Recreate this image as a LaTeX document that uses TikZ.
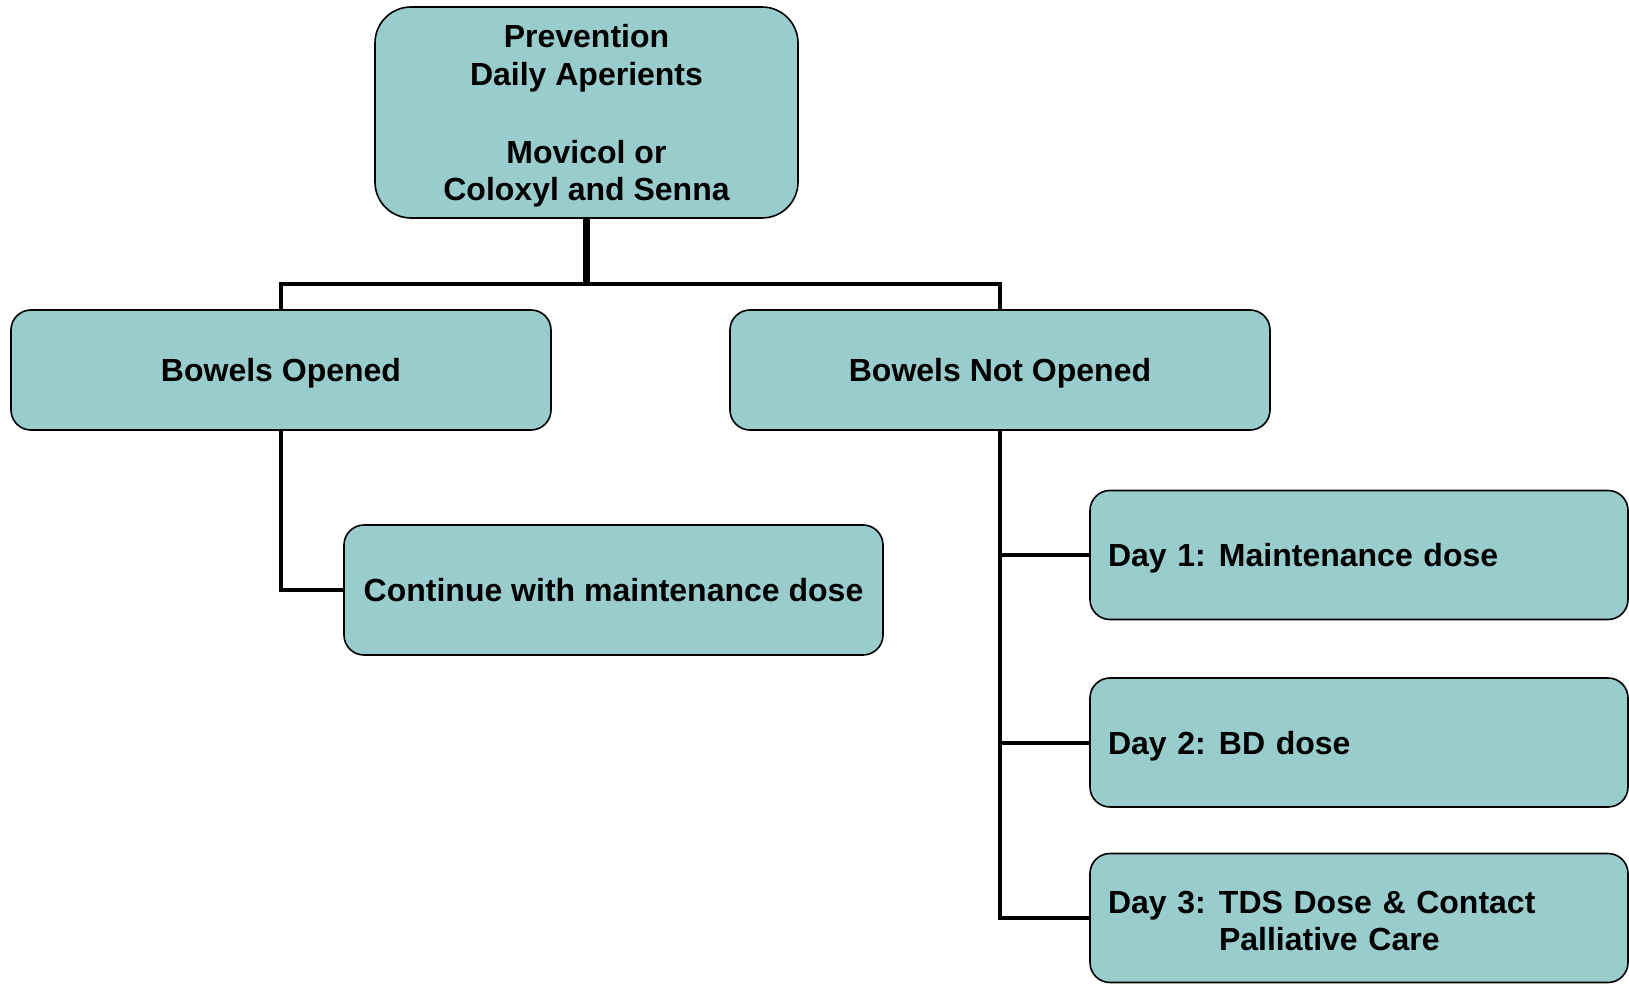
\documentclass[tikz,border=0pt]{standalone}
\usepackage{fontspec}
\setmainfont{Liberation Sans}
\usepackage{tikz}
\usetikzlibrary{positioning}
\definecolor{boxteal}{RGB}{153,204,204}
\tikzset{
  flowbox/.style={draw=black, line width=0.8pt, fill=boxteal, rounded corners=10pt,
    font=\bfseries\fontsize{16}{18.7}\selectfont, inner sep=0pt, text depth=-0.8pt},
  daybox/.style={flowbox, text width=251pt, inner xsep=9pt, align=left, minimum height=64.5pt},
  link/.style={black, line width=2pt}
}
\newcommand\dayline[2]{\makebox[55.5pt][l]{#1}#2}

\begin{document}
\begin{tikzpicture}[x=0.5pt, y=-0.5pt]
  \useasboundingbox (0,0) rectangle (1629,984);
  \node[flowbox, rounded corners=18pt, minimum width=211.5pt, minimum height=105.5pt, align=center, text depth=-2.2pt]
    (prev) at (586.5,112.5) {Prevention\\Daily Aperients\\[20.3pt]Movicol or\\Coloxyl and Senna};
  \node[flowbox, minimum width=270pt, minimum height=60pt] (opened) at (281,370) {Bowels Opened};
  \node[flowbox, minimum width=270pt, minimum height=60pt] (notopened) at (1000,370) {Bowels Not Opened};
  \node[flowbox, minimum width=269.5pt, minimum height=65pt] (cont) at (613.5,590) {Continue with maintenance dose};
  \node[daybox] (day1) at (1359,555) {\dayline{Day 1:}{Maintenance dose}};
  \node[daybox] (day2) at (1359,742.5) {\dayline{Day 2:}{BD dose}};
  \node[daybox, text depth=16.1pt] (day3) at (1359,918) {\dayline{Day 3:}{TDS Dose \& Contact}\\\hspace*{55.5pt}Palliative Care};
  \coordinate (split) at (prev.south |- 0,284);
  \draw[link, line width=3.5pt] (prev.south) -- (split);
  \draw[link] (opened.north) |- (split) -| (notopened.north);
  \draw[link] (opened.south) |- (cont.west);
  \draw[link] (notopened.south) |- (day3.west);
  \draw[link] (notopened.south |- day1.west) -- (day1.west);
  \draw[link] (notopened.south |- day2.west) -- (day2.west);
\end{tikzpicture}
\end{document}
